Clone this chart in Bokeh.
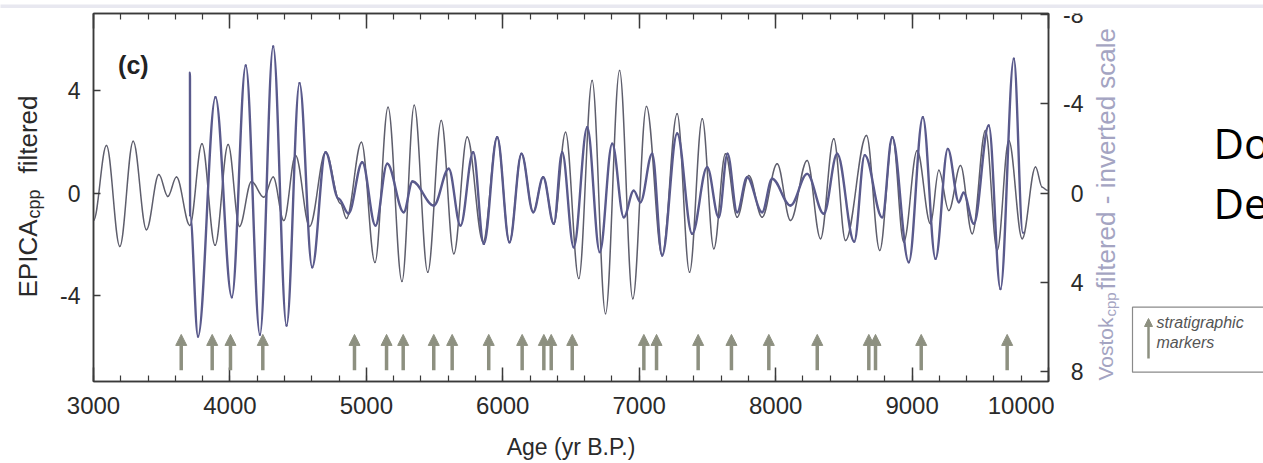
import numpy as np
from bokeh.plotting import figure
from bokeh.models import (Range1d, LinearAxis, FixedTicker, Label, Arrow, NormalHead,
                          ColumnDataSource, CustomJSTickFormatter)
from bokeh.layouts import column, row
from bokeh.embed import file_html
from bokeh.resources import INLINE

# ---------------- data ----------------
epica_age = [3000, 3095, 3193, 3291, 3388, 3479, 3545, 3608, 3706, 3795, 3891, 3987, 4070, 4158,
             4248, 4317, 4395, 4481, 4584, 4701, 4810, 4854, 4964, 5063, 5159, 5261, 5351, 5450,
             5549, 5641, 5739, 5856, 5959, 6049, 6137, 6223, 6296, 6374, 6460, 6557, 6655, 6753,
             6856, 6953, 7053, 7168, 7278, 7369, 7462, 7547, 7632, 7718, 7803, 7901, 8011, 8109,
             8231, 8329, 8426, 8512, 8666, 8763, 8857, 8939, 9037, 9135, 9196, 9269, 9355, 9441,
             9538, 9624, 9709, 9807, 9905, 9954, 9990]
epica_val = [-1.07, 1.86, -2.08, 2.03, -1.43, 0.73, -0.13, 0.63, -1.26, 1.93, -2.04, 1.90, -1.30, 0.46,
             -0.16, 0.63, -1.07, 1.47, -1.30, 1.60, -0.40, -0.99, 1.99, -2.71, 3.36, -3.45, 3.43, -3.09,
             2.84, -2.37, 2.19, -1.91, 2.19, -1.91, 1.54, -0.74, 0.63, -1.20, 2.38, -3.34, 4.40, -4.71,
             4.79, -4.13, 3.39, -2.43, 3.10, -3.09, 2.91, -2.17, 1.54, -0.94, 0.69, -0.94, 1.15, -1.07,
             1.28, -1.78, 2.13, -1.85, 2.25, -2.24, 2.19, -1.91, 1.67, -1.20, 0.89, -0.68, 1.08, -1.59,
             2.45, -2.24, 2.06, -1.78, 1.02, 0.23, 0.11]

vostok_age = [3707, 3708, 3766, 3894, 4014, 4116, 4220, 4317, 4415, 4510, 4603, 4701, 4796, 4869,
              4970, 5067, 5153, 5274, 5338, 5494, 5604, 5690, 5783, 5861, 5959, 6049, 6137, 6223,
              6296, 6374, 6435, 6520, 6619, 6711, 6802, 6887, 6960, 7009, 7095, 7168, 7278, 7388,
              7498, 7583, 7647, 7718, 7791, 7901, 7974, 8109, 8231, 8353, 8451, 8576, 8653, 8781,
              8854, 8976, 9079, 9172, 9262, 9343, 9377, 9453, 9562, 9648, 9746, 9812]
vostok_val = [-5.40, 1.00, 6.43, -4.30, 4.67, -5.72, 6.35, -6.57, 5.94, -4.93, 3.33, -1.83, 0.25, 0.92,
              -1.38, 1.46, -1.31, 0.86, -0.52, 0.56, -1.09, 1.46, -1.83, 2.28, -2.50, 2.21, -1.76, 0.86,
              -0.71, 1.38, -1.83, 2.43, -2.95, 2.65, -2.21, 1.09, -0.11, 0.41, -1.76, 2.80, -2.67, 1.83,
              -1.16, 1.09, -1.76, 0.86, -0.71, 0.86, -0.64, 0.56, -0.86, 0.93, -1.76, 2.18, -1.70, 1.09,
              -2.50, 3.10, -3.40, 2.95, -1.98, 0.41, -0.02, 1.38, -3.03, 4.30, -6.02, 1.78]

marker_age = [3643, 3870, 4004, 4241, 4913, 5148, 5270, 5494, 5629, 5897, 6142, 6301, 6355, 6509,
              7034, 7127, 7432, 7676, 7950, 8305, 8683, 8732, 9067, 9697]

x_ticks = [3000, 4000, 5000, 6000, 7000, 8000, 9000, 10000]
x_minor = list(range(3000, 10001, 200))
left_ticks = [-4, 0, 4]
right_ticks = [-8, -4, 0, 4, 8]
left_title = [("EPICA", "main"), ("cpp", "sub"), ("filtered", "main")]
right_title = [("Vostok", "main"), ("cpp", "sub"), (" filtered - inverted scale", "main")]

# ---------------- styles ----------------
FONT = "Liberation Sans"
AX = "#3a3a3a"
TXT = "#2a2a2a"
THIN = "#5e5e6c"
THICK = "#5a5a8c"
ARROW = "#8d9080"
RLAB = "#a4a4c2"
BAND = "#e8e8f0"

# page geometry (pixels)
BAND_H = 8
FRAME_TOP, FRAME_BOT = 13, 381
FRAME_L, FRAME_R = 93, 1048
LEFT_W = 50
SIDE_X0 = 1054
Y_LEFT = (-7.36, 7.02)
Y_RIGHT = (8.45, -8.05)          # inverted scale (bottom, top)


def smooth_line(fig, xs, ys, frac=0.36, **kw):
    """Draw a series through its points with horizontal tangents at every point."""
    x = np.asarray(xs, float)
    y = np.asarray(ys, float)
    dx = x[1:] - x[:-1]
    fig.bezier(x0=x[:-1], y0=y[:-1], x1=x[1:], y1=y[1:],
               cx0=x[:-1] + frac * dx, cy0=y[:-1], cx1=x[1:] - frac * dx, cy1=y[1:],
               line_cap="round", **kw)


# ---------------- top grey band ----------------
band = figure(width=1263, height=BAND_H, min_border=0, x_axis_location=None, y_axis_location=None,
              toolbar_location=None, output_backend="svg", background_fill_color=BAND,
              border_fill_color=BAND, outline_line_color=None)
band.grid.visible = False

H = 463 - BAND_H
# ---------------- left strip: left axis title (frame aligned with main frame) ----------------
ls = figure(width=LEFT_W, height=H, x_range=Range1d(0, LEFT_W),
            y_range=Range1d(FRAME_BOT, FRAME_TOP), min_border=0, x_axis_location=None,
            y_axis_location=None, toolbar_location=None, output_backend="svg",
            outline_line_color=None)
ls.grid.visible = False
ang = np.pi / 2
for (txt, kind), ystart in zip(left_title, [297, 218, 173]):
    ls.add_layout(Label(x=27 if kind == "main" else 33, y=ystart, text=txt, angle=ang,
                        text_font=FONT, text_font_size="26px" if kind == "main" else "18px",
                        text_align="left", text_baseline="middle", text_color=TXT))

# ---------------- main plot ----------------
p = figure(width=SIDE_X0 - LEFT_W, height=H, x_range=Range1d(3000, 10000),
           y_range=Range1d(*Y_LEFT), output_backend="svg", toolbar_location=None,
           min_border_left=FRAME_L - LEFT_W, min_border_right=SIDE_X0 - FRAME_R,
           min_border_top=FRAME_TOP - BAND_H, min_border_bottom=463 - FRAME_BOT)
p.extra_y_ranges = {"vostok": Range1d(*Y_RIGHT)}
p.grid.visible = False
p.outline_line_color = AX
p.outline_line_width = 1.5

plain = CustomJSTickFormatter(code="return tick.toString()")
blank = CustomJSTickFormatter(code="return ''")

xa = p.xaxis[0]
xa.ticker = FixedTicker(ticks=x_ticks, minor_ticks=x_minor)
xa.formatter = plain
xa.major_tick_in, xa.major_tick_out = 14, 0
xa.minor_tick_in, xa.minor_tick_out = 6, 0
xa.axis_label = "Age (yr B.P.)"

ya = p.yaxis[0]
ya.ticker = FixedTicker(ticks=left_ticks)
ya.formatter = plain
ya.major_tick_in, ya.major_tick_out = 7, 0
ya.minor_tick_in, ya.minor_tick_out = 0, 0

top = LinearAxis(ticker=FixedTicker(ticks=x_ticks, minor_ticks=x_minor), formatter=blank)
top.major_tick_in, top.major_tick_out = 15, 0
top.minor_tick_in, top.minor_tick_out = 6, 0
top.major_label_standoff = 0
top.major_label_text_font_size = "1px"
p.add_layout(top, "above")

ra = LinearAxis(y_range_name="vostok", ticker=FixedTicker(ticks=right_ticks), formatter=blank)
ra.major_tick_in, ra.major_tick_out = 8, 0
ra.minor_tick_in, ra.minor_tick_out = 0, 0
ra.major_label_standoff = 0
ra.major_label_text_font_size = "1px"
p.add_layout(ra, "right")

for ax in (xa, ya, top, ra):
    ax.axis_line_color = AX
    ax.axis_line_width = 1.5
    ax.major_tick_line_color = AX
    ax.major_tick_line_width = 1.5
    ax.minor_tick_line_color = AX
    ax.minor_tick_line_width = 1.2
for ax in (xa, ya):
    ax.major_label_text_font = FONT
    ax.major_label_text_color = TXT
xa.major_label_standoff = 15
ya.major_label_standoff = 13
xa.major_label_text_font_size = "24px"
ya.major_label_text_font_size = "23px"
xa.axis_label_text_font = FONT
xa.axis_label_text_font_size = "23px"
xa.axis_label_text_font_style = "normal"
xa.axis_label_text_color = TXT
xa.axis_label_standoff = 17

# curves
smooth_line(p, epica_age, epica_val, line_color=THIN, line_width=1.5)
smooth_line(p, vostok_age, vostok_val, y_range_name="vostok", line_color=THICK, line_width=2.4)

# stratigraphic marker arrows
n = len(marker_age)
base_v, tip_v = -6.92, -5.52
arr_src = ColumnDataSource(dict(x0=marker_age, y0=[base_v] * n, x1=marker_age, y1=[tip_v] * n))
p.add_layout(Arrow(end=NormalHead(size=11, fill_color=ARROW, line_color=ARROW, line_width=1),
                   x_start="x0", y_start="y0", x_end="x1", y_end="y1", source=arr_src,
                   line_color=ARROW, line_width=3.5))

# panel letter
p.add_layout(Label(x=3180, y=5.55, text="(c)", text_font=FONT, text_font_style="bold",
                   text_font_size="25px", text_baseline="top", text_color="#222"))

# ---------------- right side: right axis labels, title, legend box, slide text ----------------
SIDE_W = 1263 - SIDE_X0
k = (Y_RIGHT[0] - Y_RIGHT[1]) / (FRAME_BOT - FRAME_TOP)     # units per pixel


def vy(page_y):
    return Y_RIGHT[1] + (page_y - FRAME_TOP) * k


def sx(page_x):
    return page_x - SIDE_X0


s = figure(width=SIDE_W, height=H, x_range=Range1d(0, SIDE_W),
           y_range=Range1d(*Y_RIGHT), min_border=0, x_axis_location=None,
           y_axis_location=None, toolbar_location=None, output_backend="svg",
           outline_line_color=None)
s.grid.visible = False

# right tick labels (right aligned, on the Vostok scale)
s.text(x=[sx(1083)] * len(right_ticks), y=right_ticks, text=[str(t) for t in right_ticks],
       text_align="right", text_baseline="middle", text_font={"value": FONT},
       text_font_size="23px", text_color=TXT)

# right axis title
for (txt, kind), ystart in zip(right_title, [380, 316, 289]):
    s.add_layout(Label(x=sx(1105) if kind == "main" else sx(1110), y=vy(ystart), text=txt,
                       angle=ang, text_font=FONT,
                       text_font_size=("21px" if txt == "Vostok" else "26px") if kind == "main" else "15px",
                       text_align="left", text_baseline="middle", text_color=RLAB))

# legend box
s.quad(left=[sx(1132)], right=[sx(1300)], top=[vy(306.7)], bottom=[vy(371.7)],
       fill_color="white", line_color="#8a8a8a", line_width=1.2)
s.add_layout(Arrow(end=NormalHead(size=8, fill_color=ARROW, line_color=ARROW),
                   x_start=sx(1148), y_start=vy(358), x_end=sx(1148), y_end=vy(318),
                   line_color=ARROW, line_width=2.5))
s.add_layout(Label(x=sx(1156), y=vy(322), text="stratigraphic", text_font=FONT,
                   text_font_style="italic", text_font_size="16px", text_baseline="middle",
                   text_color="#555"))
s.add_layout(Label(x=sx(1156), y=vy(342), text="markers", text_font=FONT,
                   text_font_style="italic", text_font_size="16px", text_baseline="middle",
                   text_color="#555"))

# slide text peeking in at the right edge
s.add_layout(Label(x=sx(1213), y=vy(142), text="Do", text_font="Open Sans", text_font_size="42px",
                   text_baseline="middle", text_color="black"))
s.add_layout(Label(x=sx(1213), y=vy(202), text="De", text_font="Open Sans", text_font_size="42px",
                   text_baseline="middle", text_color="black"))

layout = column(band, row(ls, p, s, spacing=0), spacing=0)
open("out.html", "w").write(file_html(layout, INLINE))
